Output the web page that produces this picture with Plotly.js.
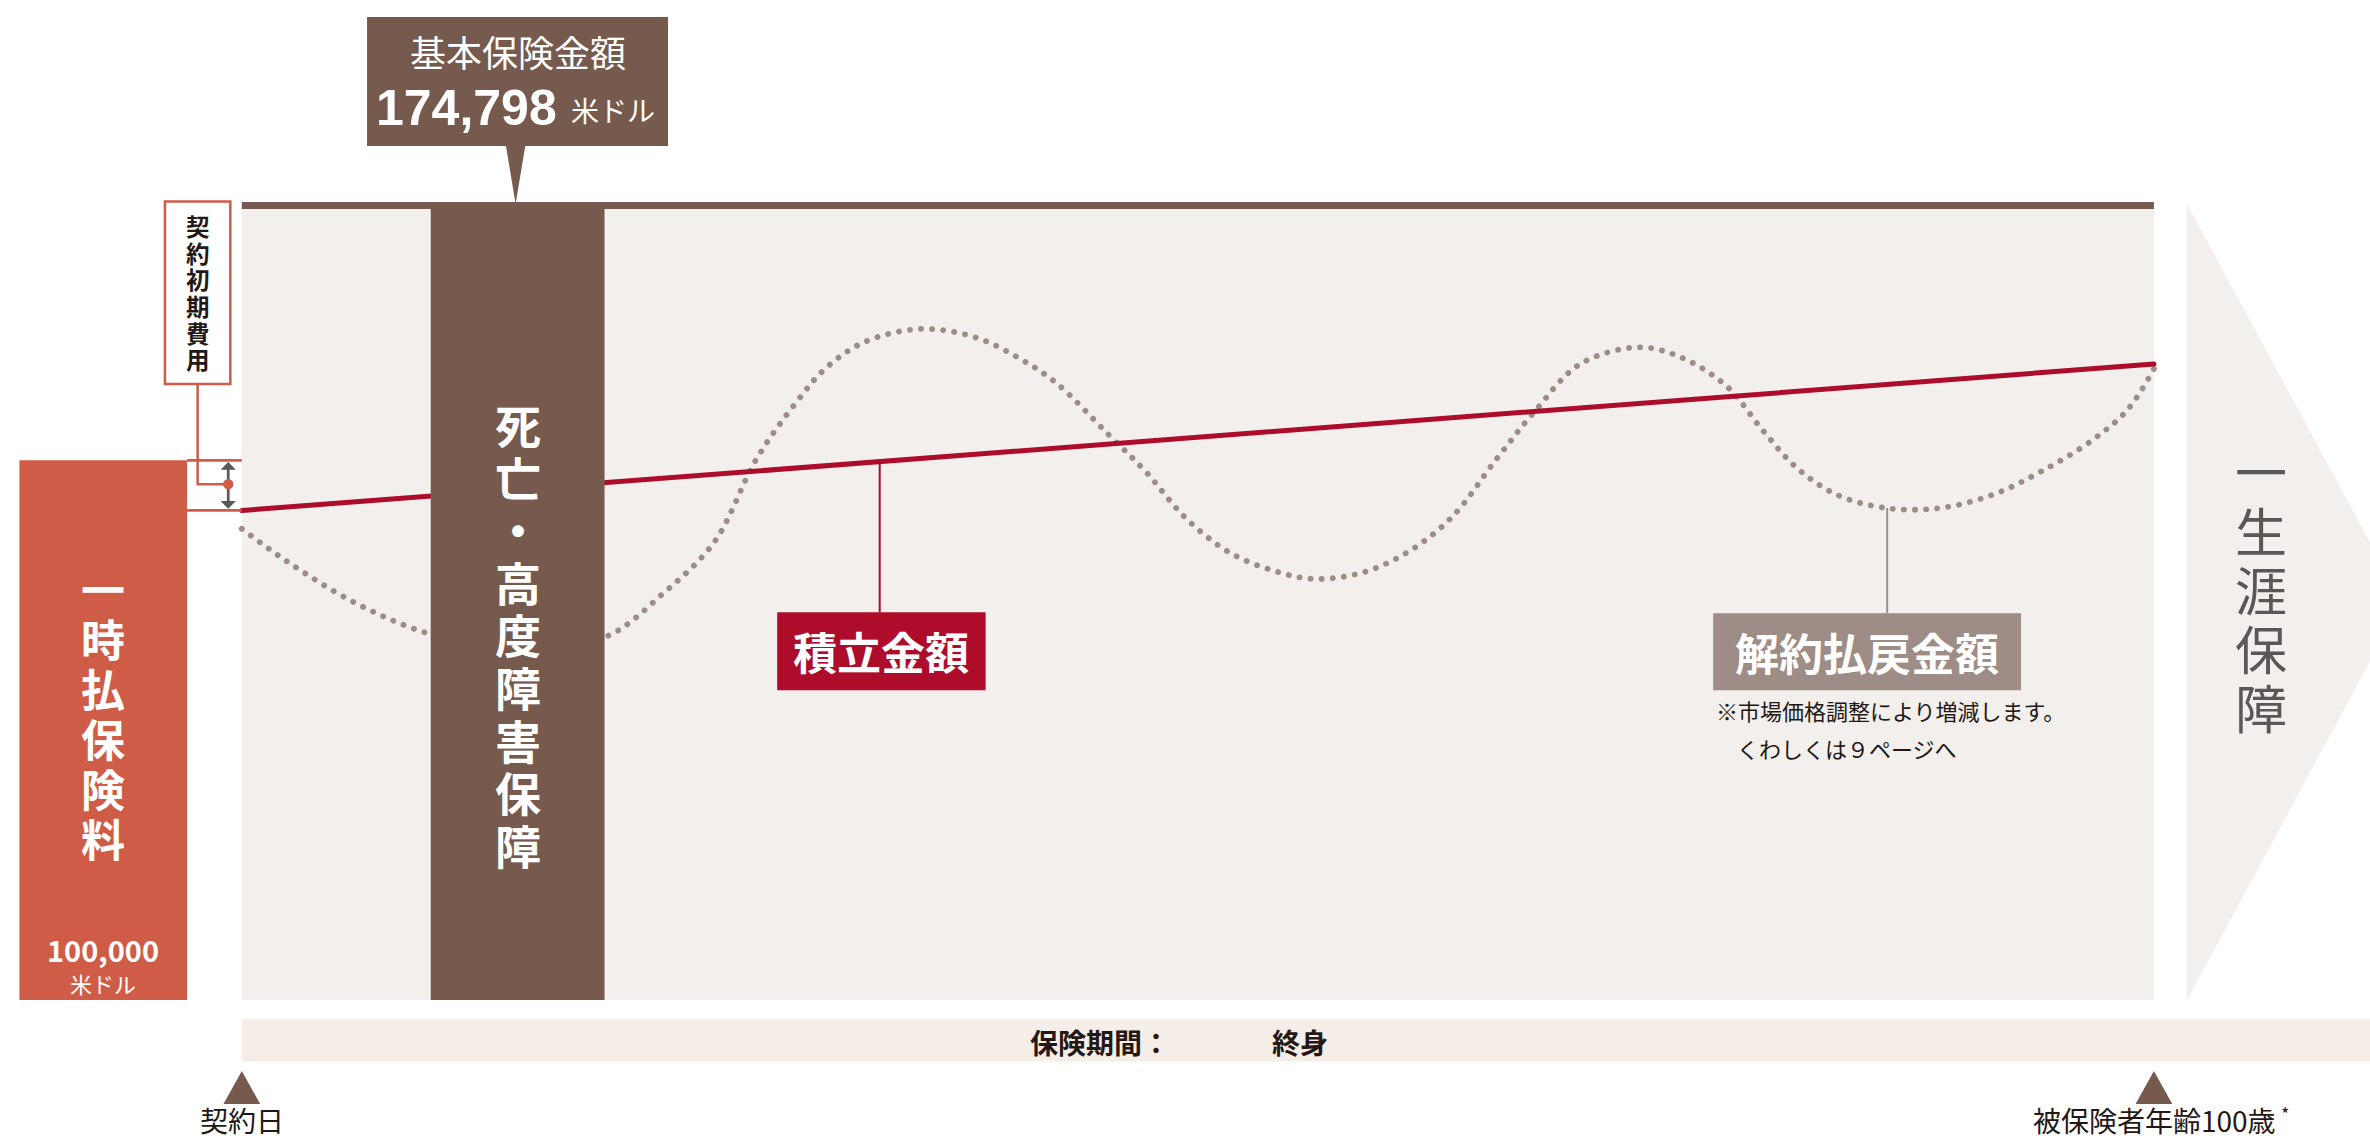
<!DOCTYPE html>
<html>
<head>
<meta charset="utf-8">
<script src="https://cdn.plot.ly/plotly-3.0.1.min.js"></script>
<style>
html,body{margin:0;padding:0;background:#ffffff;}
#chart{width:2370px;height:1142px;}
.js-line{stroke-linecap:round;}
</style>
</head>
<body>
<div id="chart"></div>
<script>
// ---------------- data (schematic values) ----------------
// x: policy timeline, 0 = 契約日, 100 = 被保険者年齢100歳
// y: schematic height, 0 = base of the chart, 100 = 基本保険金額 line
const timeline = [0, 100];
const accumulationValue = [61.5, 79.9];          // 積立金額 (straight rising line)
const surrenderX = [0, 2.3, 6.0, 9.8, 14.4, 19.1, 22.0, 24.7, 26.9, 29.0, 30.6, 32.6, 35.5, 38.3, 40.6,
  42.6, 45.3, 47.3, 49.3, 51.6, 54.0, 56.1, 58.6, 61.0, 63.3, 65.6, 67.6, 70.0, 73.1, 75.4, 77.7,
  79.5, 81.3, 83.4, 86.0, 88.8, 91.6, 94.1, 96.7, 98.6, 100];
const surrenderY = [59.2, 55.2, 49.8, 46.0, 43.6, 45.7, 51.0, 57.5, 67.9, 75.1, 79.5, 82.7, 84.3, 83.3, 80.7,
  77.5, 71.1, 66.3, 60.7, 56.3, 53.9, 52.9, 53.7, 56.3, 60.7, 67.9, 73.9, 79.9, 82.0, 80.6, 77.0,
  71.7, 66.9, 63.5, 61.8, 61.8, 63.5, 66.4, 70.2, 74.1, 79.3];
const premiumHeight = 67.8;        // 一時払保険料 bar
const deathBenefitHeight = 100;    // 基本保険金額 line / 死亡・高度障害保障
const premiumAmount = '100,000';
const deathBenefitAmount = '174,798';
const currencyUnit = '米ドル';
const calloutTitle = '基本保険金額';
const periodLabels = ['保険期間：', '終身'];
const timelineLabels = ['契約日', '被保険者年齢100歳', '*'];
const seriesLabels = ['積立金額', '解約払戻金額'];
const blockLabels = ['死亡・高度障害保障', '一時払保険料', '一生涯保障', '契約初期費用'];
const noteLines = ['※市場価格調整により増減します。', 'くわしくは９ページへ'];

// ---------------- styles ----------------
const FONT = '"Noto Sans CJK JP", "Noto Sans", sans-serif';
const VFONT = '"Liberation Sans", "Noto Sans CJK JP", sans-serif';   // tight line box
const C = {
  panel: '#F2EFEC', band: '#F5EDE7', brown: '#765A4E', orange: '#CF5C46',
  red: '#AD0C2A', gray: '#9D8D86', ink: '#231815', arrow: '#58595B', chevronText: '#595757'
};
const lineW = 0.63;    // top line thickness in y units

function ann(text, x, y, font, extra) {
  return Object.assign({x: x, y: y, xref: 'x', yref: 'y', text: text, showarrow: false,
    xanchor: 'center', yanchor: 'middle', font: font}, extra || {});
}
// vertical (tategaki) text as ONE multi-line text: line pitch = 1.3 * baseSize
function vBlock(str, x, yCenter, baseSize, charSize, color, weight) {
  const text = [...str].map(ch => `<span style="font-size:${charSize}px">${ch}</span>`).join('<br>');
  return ann(text, x, yCenter, {family: VFONT, size: baseSize, color: color, weight: weight || 'normal'});
}
function rect(x0, x1, y0, y1, fill, layer, line) {
  return {type: 'rect', xref: 'x', yref: 'y', x0: x0, x1: x1, y0: y0, y1: y1,
    fillcolor: fill, line: line || {width: 0}, layer: layer || 'below'};
}
function seg(x0, y0, x1, y1, color, width, layer) {
  return {type: 'line', xref: 'x', yref: 'y', x0: x0, y0: y0, x1: x1, y1: y1,
    line: {color: color, width: width}, layer: layer || 'above'};
}
function poly(pts, fill, layer) {
  const d = pts.map((p, i) => (i ? 'L' : 'M') + p[0] + ',' + p[1]).join(' ') + ' Z';
  return {type: 'path', xref: 'x', yref: 'y', path: d, fillcolor: fill, line: {width: 0}, layer: layer || 'above'};
}

// ---------------- traces ----------------
const traces = [
  {x: surrenderX, y: surrenderY, type: 'scatter', mode: 'lines', hoverinfo: 'skip',
   line: {color: C.gray, width: 5.8, shape: 'spline', smoothing: 1, dash: '0.1px,11px'}},
  {x: timeline, y: accumulationValue, type: 'scatter', mode: 'lines', hoverinfo: 'skip',
   line: {color: C.red, width: 5}}
];

const redAt = xv => accumulationValue[0] + (accumulationValue[1] - accumulationValue[0]) * (xv - timeline[0]) / (timeline[1] - timeline[0]);
const costTop = premiumHeight, costBottom = accumulationValue[0];
const premX = [-11.63, -2.86];
const deathX = [9.88, 18.97];
const boxA = {x: [28.0, 38.9], y: [38.9, 48.7], lead: 33.36};
const boxB = {x: [76.95, 93.05], y: [38.9, 48.6], lead: 86.05, leadTop: 61.8};
const costBox = {x: [-4.02, -0.6], y: [77.4, 100.3], cx: -2.31};
const arrowX = -0.71;

const shapes = [
  rect(timeline[0], timeline[1], 0, deathBenefitHeight, C.panel, 'below'),
  poly([[101.73, 0], [101.73, 100], [112.98, 50]], C.panel, 'below'),
  rect(timeline[0], 125, -7.74, -2.39, C.band, 'below'),
  rect(timeline[0], timeline[1], deathBenefitHeight - lineW, deathBenefitHeight + 0.25, C.brown, 'below'),
  rect(6.55, 22.29, 107.3, 123.5, C.brown, 'above'),
  poly([[13.8, 107.5], [14.84, 107.5], [14.32, deathBenefitHeight]], C.brown, 'above'),
  rect(deathX[0], deathX[1], 0, deathBenefitHeight - lineW, C.brown, 'above'),
  rect(premX[0], premX[1], 0, premiumHeight, C.orange, 'above'),
  seg(premX[1], costTop, 0, costTop, C.orange, 2.7),
  seg(premX[1], costBottom, 0, costBottom, C.orange, 2.7),
  rect(costBox.x[0], costBox.x[1], costBox.y[0], costBox.y[1], '#ffffff', 'above', {color: C.orange, width: 2.5}),
  {type: 'path', xref: 'x', yref: 'y', path: `M${costBox.cx},${costBox.y[0]} L${costBox.cx},64.8 L${arrowX},64.8`,
   line: {color: C.orange, width: 2.5}, layer: 'above'},
  seg(arrowX, costBottom + 0.8, arrowX, costTop - 0.8, C.arrow, 2.7),
  poly([[arrowX - 0.4, costTop - 1.2], [arrowX + 0.4, costTop - 1.2], [arrowX, costTop - 0.2]], C.arrow),
  poly([[arrowX - 0.4, costBottom + 1.2], [arrowX + 0.4, costBottom + 1.2], [arrowX, costBottom + 0.2]], C.arrow),
  {type: 'circle', xref: 'x', yref: 'y', x0: arrowX - 0.27, x1: arrowX + 0.27, y0: 64.8 - 0.65, y1: 64.8 + 0.65,
   fillcolor: C.orange, line: {width: 0}, layer: 'above'},
  seg(boxA.lead, redAt(boxA.lead), boxA.lead, boxA.y[1], C.red, 2),
  rect(boxA.x[0], boxA.x[1], boxA.y[0], boxA.y[1], C.red, 'above'),
  seg(boxB.lead, boxB.leadTop, boxB.lead, boxB.y[1], C.gray, 2),
  rect(boxB.x[0], boxB.x[1], boxB.y[0], boxB.y[1], C.gray, 'above'),
  poly([[timeline[0] - 0.96, -13.07], [timeline[0] + 0.96, -13.07], [timeline[0], -8.92]], C.brown),
  poly([[timeline[1] - 0.96, -13.07], [timeline[1] + 0.96, -13.07], [timeline[1], -8.92]], C.brown)
];

const white = (s, w, fam) => ({family: fam || FONT, size: s, color: '#ffffff', weight: w || 'normal'});
const ink = (s, w) => ({family: FONT, size: s, color: C.ink, weight: w || 'normal'});

const annotations = [
  ann(calloutTitle, 14.42, 118.74, white(36, 'normal', VFONT)),
  ann(deathBenefitAmount, 16.57, 112.12, white(50, 'bold', VFONT), {xanchor: 'right'}),
  ann(currencyUnit, 17.11, 111.8, white(28), {xanchor: 'left'}),
  ann(premiumAmount, (premX[0] + premX[1]) / 2, 6.41, white(29, 'bold')),
  ann(currencyUnit, (premX[0] + premX[1]) / 2, 2.19, white(22)),
  ann(seriesLabels[0], (boxA.x[0] + boxA.x[1]) / 2, (boxA.y[0] + boxA.y[1]) / 2, white(44, 'bold')),
  ann(seriesLabels[1], (boxB.x[0] + boxB.x[1]) / 2, (boxB.y[0] + boxB.y[1]) / 2, white(44, 'bold')),
  ann(noteLines[0], 77.0, 36.4, ink(22), {xanchor: 'left'}),
  ann(noteLines[1], 78.1, 31.7, ink(22), {xanchor: 'left'}),
  ann(periodLabels[0], 44.86, -5.31, ink(28, 'bold')),
  ann(periodLabels[1], 55.34, -5.31, ink(28, 'bold')),
  ann(timelineLabels[0], timeline[0], -15.1, ink(28)),
  ann(timelineLabels[1], 106.5, -15.1, ink(28), {xanchor: 'right'}),
  ann(timelineLabels[2], 106.56, -14.2, ink(18), {xanchor: 'left'}),
  vBlock(blockLabels[0], (deathX[0] + deathX[1]) / 2, 45.48, 40.46, 46, '#ffffff', 'bold'),
  vBlock(blockLabels[1], (premX[0] + premX[1]) / 2, 35.63, 38.46, 44, '#ffffff', 'bold'),
  vBlock(blockLabels[2], 105.6, 51.18, 45.38, 52, C.chevronText, 'normal'),
  vBlock(blockLabels[3], costBox.cx, 88.69, 20.49, 23.5, C.ink, 'bold')
];

const layout = {
  width: 2370, height: 1142,
  margin: {l: 0, r: 0, t: 0, b: 0, pad: 0},
  paper_bgcolor: '#ffffff', plot_bgcolor: '#ffffff',
  showlegend: false,
  font: {family: FONT, color: C.ink},
  xaxis: {range: [-12.646, 111.30], visible: false, fixedrange: true},
  yaxis: {range: [-17.84, 125.63], visible: false, fixedrange: true},
  shapes: shapes,
  annotations: annotations
};

Plotly.newPlot('chart', traces, layout, {staticPlot: true, displayModeBar: false});
</script>
</body>
</html>
